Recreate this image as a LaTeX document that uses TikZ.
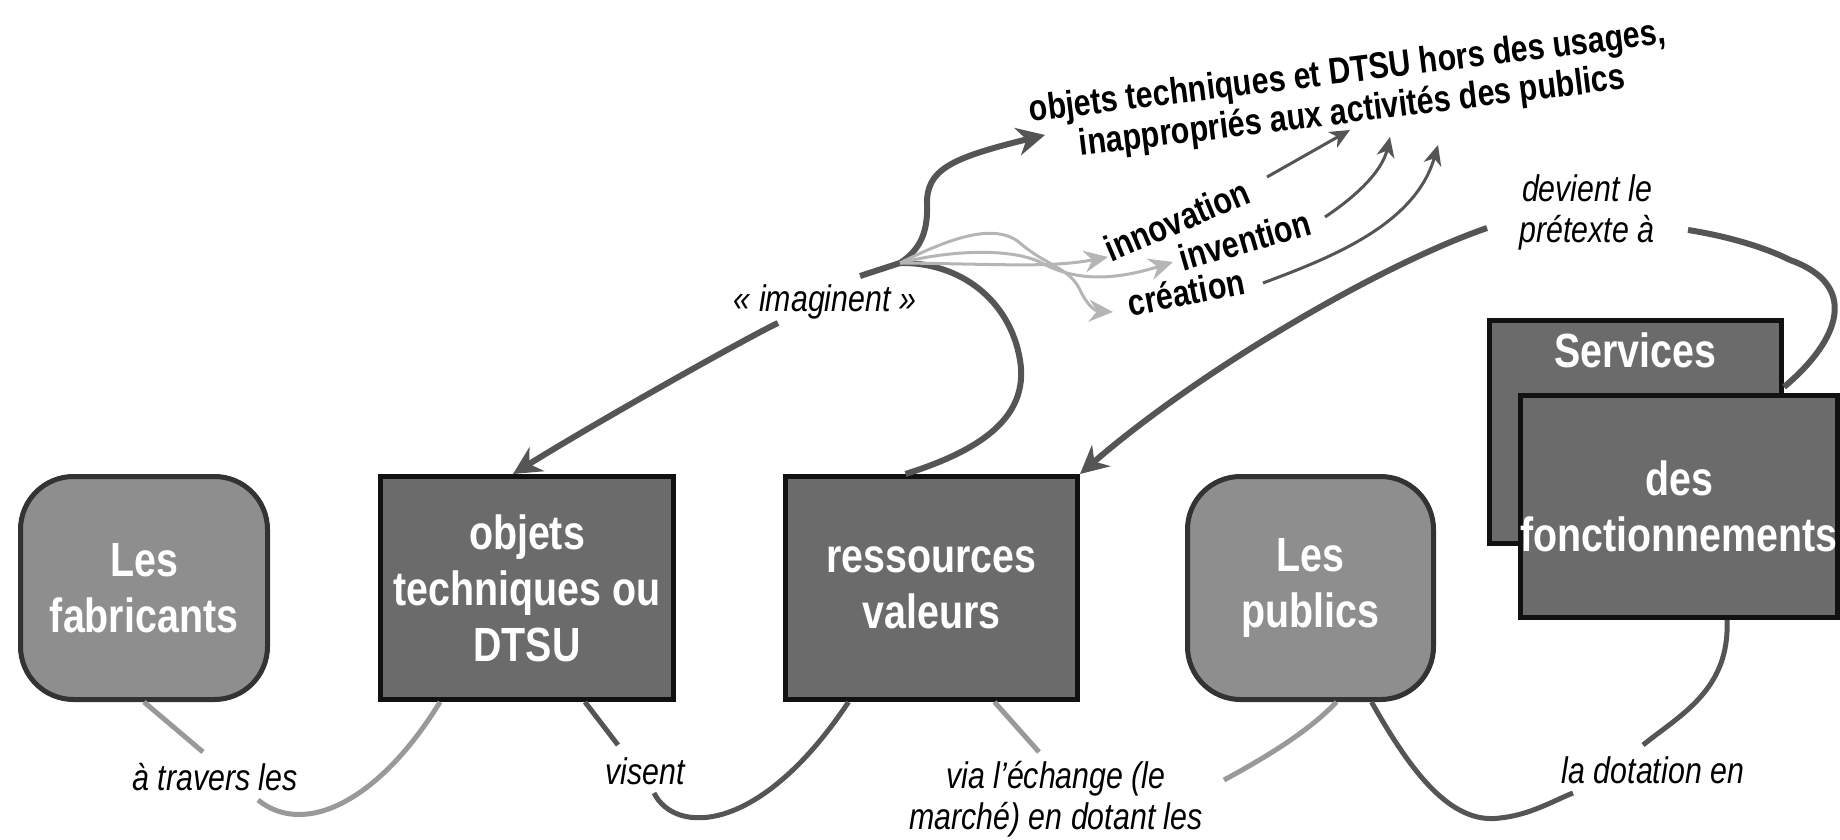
\documentclass[tikz,border=0pt]{standalone}
\usepackage{fontspec}
\setmainfont{Liberation Sans}[FakeStretch=0.82]
\usetikzlibrary{arrows.meta,calc}

\definecolor{boxdark}{HTML}{6B6B6B}
\definecolor{boxlight}{HTML}{8E8E8E}
\definecolor{edgedark}{HTML}{111111}
\definecolor{edgesoft}{HTML}{333333}
\definecolor{linkdark}{HTML}{555555}
\definecolor{linklight}{HTML}{999999}
\definecolor{fanlight}{HTML}{B5B5B5}

\begin{document}
\begin{tikzpicture}[x=1pt,y=-1pt,
  boxtext/.style={font=\bfseries\fontsize{48}{56}\selectfont, text=white, align=center},
  actor/.style={boxtext, draw=edgesoft, fill=boxlight, line width=5pt,
    rounded corners=53pt, minimum height=223pt, inner sep=0pt},
  thing/.style={boxtext, draw=edgedark, fill=boxdark, line width=5pt,
    minimum height=223pt, inner sep=0pt},
  verb/.style={font=\itshape\fontsize{37}{41}\selectfont, align=center, inner sep=0pt},
  term/.style={font=\bfseries\fontsize{37}{40}\selectfont, align=center, inner sep=0pt},
  linkd/.style={draw=linkdark, line width=5pt},
  linkl/.style={draw=linklight, line width=5pt},
  bigarrow/.style={draw=linkdark, line width=6pt, -{Stealth[length=28pt,width=28pt,inset=9pt]}},
  thinarrow/.style={draw=linkdark, line width=3pt, -{Stealth[length=20pt,width=18pt,inset=6pt]}},
  fanarrow/.style={draw=fanlight, line width=3pt, -{Stealth[length=24pt,width=22pt,inset=8pt]}}
]
\useasboundingbox (0,0) rectangle (1840,840);

% main boxes
\node[actor, minimum width=247pt] (fab) at (144,588) {Les\\fabricants};
\node[thing, minimum width=293pt] (obj) at (527,588) {objets\\techniques ou\\DTSU};
\node[thing, minimum width=292pt] (ress) at (931.5,588) {ressources\\valeurs};
\node[actor, minimum width=246pt] (pub) at (1310.5,588) {Les\\publics};
\node[thing, minimum width=292pt,
  label={[boxtext, anchor=center, label distance=-32pt]north:Services}] (serv) at (1635.5,432) {};
\node[thing, minimum width=313pt, minimum height=222pt] (fonc) at (1679,506.5) {des\\fonctionnements};

% link labels
\node[verb] (trav) at (215,777) {à travers les};
\node[verb] (vis) at (645,771) {visent};
\node[verb] (via) at (1056,799) {via l’échange (le\\marché) en dotant les};
\node[verb] (dot) at (1653,770) {la dotation en};
\node[verb] (imag) at (825,302) {« imaginent »};
\node[verb] (dev) at (1587,212) {devient le\\prétexte à};

% terms and outcome
\node[term, rotate=23] (innov) at (1177,220) {innovation};
\node[term, rotate=16] (inv) at (1245,240) {invention};
\node[term, rotate=11] (crea) at (1186,292) {création};
\node[term, rotate=7] (top) at (1350,93)
  {objets techniques et DTSU hors des usages,\\inappropriés aux activités des publics};

\coordinate (cusp) at (900,263);

% bottom chain
\draw[linkl] (fab.south) -- ($(trav.center)+(-12,-25)$);
\draw[linkl] ($(trav.center)+(43,23)$) .. controls (305,838) and (380,800) .. ($(obj.south)+(-87,0)$);
\draw[linkd] ($(obj.south)+(58,0)$) -- ($(vis.center)+(-27,-26)$);
\draw[linkd] ($(vis.center)+(9,22)$) .. controls (675,835) and (760,835) .. ($(ress.south)+(-83,0)$);
\draw[linkl] ($(ress.south)+(63,0)$) -- ($(via.center)+(-17,-47)$);
\draw[linkl] ($(via.center)+(168,-19)$) .. controls (1270,755) and (1310,730) .. ($(pub.south)+(26,0)$);
\draw[linkd] ($(pub.south)+(61,0)$) .. controls (1410,770) and (1450,825) .. (1500,818)
  .. controls (1530,815) and (1555,800) .. ($(dot.center)+(-80,23)$);
\draw[linkd] ($(dot.center)+(-10,-25)$) .. controls (1680,715) and (1730,690) .. ($(fonc.south)+(48,0)$);

% services back to resources
\draw[linkd, line width=6pt] ($(serv.east)+(0,-45)$) .. controls (1840,340) and (1860,285) .. (1790,260)
  .. controls (1760,245) and (1720,235) .. ($(dev.center)+(101,18)$);
\draw[bigarrow] ($(dev.center)+(-100,16)$) .. controls (1380,265) and (1200,370) .. (ress.north east);

% resources up to the fork, and its branches
\draw[linkd, line width=6pt] ($(ress.north)+(-26,0)$) .. controls (975,452) and (1030,420) .. (1020,360)
  .. controls (1010,300) and (960,262) .. (cusp);
\draw[bigarrow] (cusp) .. controls (920,250) and (928,232) .. (927,205)
  .. controls (926,170) and (950,158) .. ($(top.center)+(-305,42)$);
\draw[linkd, line width=6pt] (cusp) -- ($(imag.center)+(35,-26)$);
\draw[bigarrow] ($(imag.center)+(-47,21)$) .. controls (750,336) and (600,420) .. ($(obj.north)+(-14,0)$);

% light fan towards the three terms
\draw[fanarrow] (cusp) .. controls (1000,264) and (1050,268) .. ($(innov.center)+(-69,37)$);
\draw[fanarrow] (cusp) .. controls (950,250) and (1010,248) .. (1040,262)
  .. controls (1065,276) and (1100,285) .. ($(inv.center)+(-72,22)$);
\draw[fanarrow] (cusp) .. controls (950,238) and (995,222) .. (1020,243)
  .. controls (1045,265) and (1070,268) .. (1080,290)
  .. controls (1087,305) and (1095,311) .. ($(crea.center)+(-73,20)$);

% terms up to the outcome
\draw[thinarrow] ($(innov.center)+(90,-43)$) -- ($(top.center)+(0,37)$);
\draw[thinarrow] ($(inv.center)+(80,-23)$) .. controls (1355,197) and (1382,172) .. ($(top.center)+(40,44)$);
\draw[thinarrow] ($(crea.center)+(77,-9)$) .. controls (1330,258) and (1415,225) .. ($(top.center)+(88,52)$);
\end{tikzpicture}
\end{document}
